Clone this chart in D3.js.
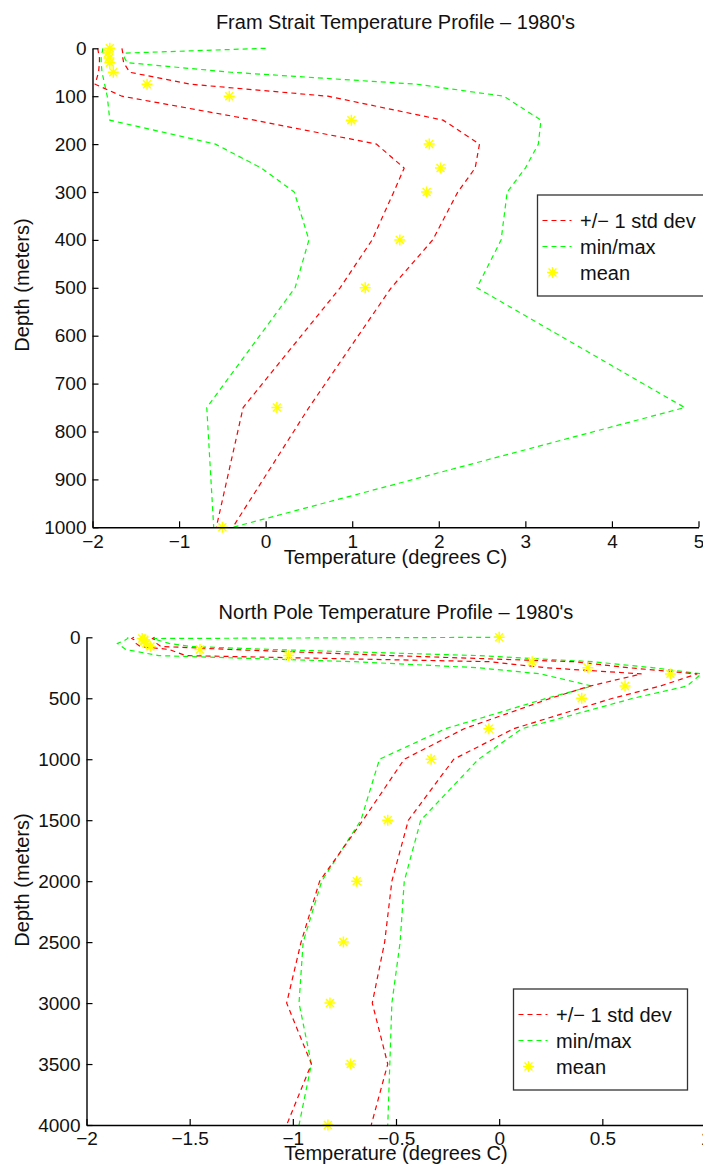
<!DOCTYPE html>
<html><head><meta charset="utf-8">
<script src="https://cdn.jsdelivr.net/npm/d3@7"></script>
<style>
html,body{margin:0;padding:0;background:#fff;overflow:hidden}
svg text{font-family:"Liberation Sans",Arial,Helvetica,sans-serif;fill:#111}
</style></head><body>
<svg id="c" width="703" height="1165"></svg>
<script>
// ---------- Fram Strait data ----------
const framDepth  = [0,10,20,30,50,75,100,150,200,250,300,400,500,750,1000];
const framMean   = [-1.80,-1.82,-1.81,-1.80,-1.76,-1.37,-0.42,0.99,1.89,2.02,1.86,1.55,1.15,0.13,-0.50];
const framStdLo  = [-1.94,-1.93,-1.92,-1.92,-1.93,-1.97,-1.66,-0.13,1.28,1.60,1.48,1.23,0.86,-0.26,-0.57];
const framStdHi  = [-1.66,-1.65,-1.65,-1.64,-1.57,-0.87,0.72,2.05,2.47,2.42,2.22,1.93,1.45,0.50,-0.38];
const framMin    = [-1.88,-1.89,-1.90,-1.90,-1.89,-1.86,-1.83,-1.80,-0.58,-0.05,0.33,0.50,0.34,-0.68,-0.60];
const framMax    = [0.00,-1.62,-1.63,-1.60,-0.40,1.75,2.75,3.18,3.15,3.00,2.79,2.72,2.44,4.84,-0.38];
const framXTicks = [-2,-1,0,1,2,3,4,5];
const framYTicks = [0,100,200,300,400,500,600,700,800,900,1000];

// ---------- North Pole data ----------
const npDepth  = [0,10,20,30,50,75,100,150,200,250,300,400,500,750,1000,1500,2000,2500,3000,3500,4000];
const npMean   = [0.00,-1.73,-1.72,-1.72,-1.71,-1.69,-1.45,-1.02,0.16,0.43,0.83,0.61,0.40,-0.05,-0.33,-0.54,-0.69,-0.755,-0.82,-0.72,-0.83];
const npStdLo  = [-1.77,-1.78,-1.77,-1.77,-1.76,-1.74,-1.60,-1.52,-0.05,0.23,0.69,0.44,0.25,-0.17,-0.46,-0.66,-0.87,-0.96,-1.03,-0.91,-1.03];
const npStdHi  = [-1.67,-1.68,-1.67,-1.67,-1.66,-1.64,-1.30,-0.52,0.36,0.63,0.96,0.78,0.55,0.07,-0.22,-0.44,-0.52,-0.555,-0.615,-0.54,-0.62];
const npMin    = [-1.80,-1.80,-1.81,-1.82,-1.85,-1.83,-1.81,-1.65,-0.70,-0.10,0.20,0.45,0.23,-0.26,-0.58,-0.67,-0.86,-0.95,-0.97,-0.91,-0.97];
const npMax    = [0.00,-1.68,-1.66,-1.64,-1.60,-1.50,-1.10,-0.10,0.45,0.75,0.98,0.91,0.65,0.11,-0.10,-0.38,-0.46,-0.48,-0.52,-0.53,-0.54];
const npXTicks = [-2,-1.5,-1,-0.5,0,0.5,1];
const npYTicks = [0,500,1000,1500,2000,2500,3000,3500,4000];

const legendLabels = ["+/\u2212 1 std dev","min/max","mean"];
const RED = "#ff0000", GREEN = "#00ff00", YELLOW = "#ffff00";

const svg = d3.select("#c");
const fmt = d => (d < 0 ? "\u2212" : "") + Math.abs(d);

function starPath(r){
  const a = r*0.72;
  return `M${-r},0H${r}M0,${-r}V${r}M${-a},${-a}L${a},${a}M${-a},${a}L${a},${-a}`;
}

function panel(o){
  const x = d3.scaleLinear().domain(o.xDomain).range([o.x0,o.x1]);
  const y = d3.scaleLinear().domain(o.yDomain).range([o.y0,o.y1]);
  const g = svg.append("g");

  const line = vals => d3.line().x((d,i)=>x(vals[i])).y((d,i)=>y(o.depth[i]))(o.depth);
  const series = [[o.min,GREEN],[o.max,GREEN],[o.lo,RED],[o.hi,RED]];
  series.forEach(([v,c])=>{
    g.append("path").attr("d",line(v)).attr("fill","none")
     .attr("stroke",c).attr("stroke-width",1.2).attr("stroke-dasharray","5,4");
  });
  g.selectAll(".star").data(o.mean).enter().append("path")
   .attr("d",starPath(5.5))
   .attr("transform",(d,i)=>`translate(${x(d)},${y(o.depth[i])})`)
   .attr("stroke",YELLOW).attr("stroke-width",1.5).attr("fill","none");

  const xa = g.append("g").attr("transform",`translate(0,${o.y1})`)
    .call(d3.axisBottom(x).tickValues(o.xTicks).tickFormat(fmt).tickSize(-6).tickSizeOuter(0).tickPadding(7));
  const ya = g.append("g").attr("transform",`translate(${o.x0},0)`)
    .call(d3.axisLeft(y).tickValues(o.yTicks).tickFormat(d=>d).tickSize(-6).tickSizeOuter(0).tickPadding(6));
  [xa,ya].forEach(a=>{
    a.select(".domain").attr("stroke","#000").attr("stroke-width",1.4);
    a.selectAll(".tick line").attr("stroke","#000").attr("stroke-width",1.2);
    a.selectAll(".tick text").attr("font-size",19).attr("fill","#111")
      .attr("font-family","Liberation Sans, Arial, sans-serif");
  });

  g.append("text").attr("x",(o.x0+o.x1)/2).attr("y",o.titleY)
   .attr("text-anchor","middle").attr("font-size",20).text(o.title);
  g.append("text").attr("x",(o.x0+o.x1)/2).attr("y",o.xLabelY)
   .attr("text-anchor","middle").attr("font-size",20).text("Temperature (degrees C)");
  g.append("text").attr("transform",`translate(${o.yLabelX},${o.yLabelCY}) rotate(-90)`)
   .attr("text-anchor","middle").attr("font-size",20).text("Depth (meters)");

  // legend
  const L = g.append("g").attr("transform",`translate(${o.legX},${o.legY})`);
  L.append("rect").attr("width",174).attr("height",101).attr("fill","#fff")
   .attr("stroke","#333").attr("stroke-width",1.3);
  const rows = [25.5,51.5,77.5];
  [[RED],[GREEN]].forEach(([c],i)=>{
    L.append("line").attr("x1",5).attr("x2",34).attr("y1",rows[i]).attr("y2",rows[i])
     .attr("stroke",c).attr("stroke-width",1.2).attr("stroke-dasharray","5,4");
  });
  L.append("path").attr("d",starPath(5.5)).attr("transform",`translate(15,${rows[2]})`)
   .attr("stroke",YELLOW).attr("stroke-width",1.5);
  legendLabels.forEach((t,i)=>{
    L.append("text").attr("x",42.5).attr("y",rows[i]+7).attr("font-size",20).text(t);
  });
}

panel({
  depth:framDepth, mean:framMean, lo:framStdLo, hi:framStdHi, min:framMin, max:framMax,
  xDomain:[-2,5], yDomain:[0,1000], x0:92.5, x1:698.5, y0:48.3, y1:527.3,
  xTicks:framXTicks, yTicks:framYTicks,
  title:"Fram Strait Temperature Profile \u2013 1980's", titleY:29, xLabelY:564,
  yLabelX:29, yLabelCY:285, legX:537.5, legY:195
});
panel({
  depth:npDepth, mean:npMean, lo:npStdLo, hi:npStdHi, min:npMin, max:npMax,
  xDomain:[-2,1], yDomain:[0,4000], x0:86.5, x1:705.5, y0:637.3, y1:1125,
  xTicks:npXTicks, yTicks:npYTicks,
  title:"North Pole Temperature Profile \u2013 1980's", titleY:619, xLabelY:1160,
  yLabelX:29, yLabelCY:880, legX:513.5, legY:989
});
</script>
</body></html>
